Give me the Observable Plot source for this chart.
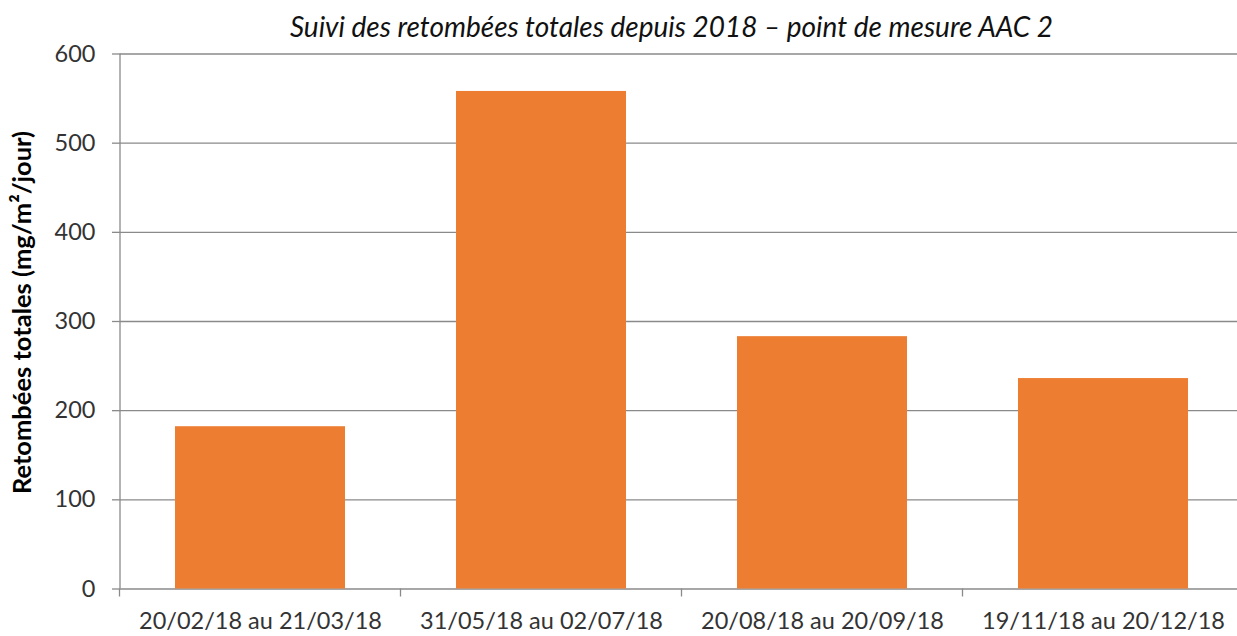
<!DOCTYPE html>
<html>
<head>
<meta charset="utf-8">
<script src="https://cdn.jsdelivr.net/npm/d3@7"></script>
<script src="https://cdn.jsdelivr.net/npm/@observablehq/plot@0.6"></script>
<style>
  html, body { margin: 0; padding: 0; background: #fff; overflow: hidden; }
  svg { display: block; }
</style>
</head>
<body>
<div id="chart"></div>
<script>
const categories = ["20/02/18 au 21/03/18", "31/05/18 au 02/07/18", "20/08/18 au 20/09/18", "19/11/18 au 20/12/18"];
const values = [182, 558, 283, 236];
const yTicks = [0, 100, 200, 300, 400, 500, 600];
const title = "Suivi des retombées totales depuis 2018 – point de mesure AAC 2";
const yLabel = "Retombées totales (mg/m²/jour)";

const data = categories.map((c, i) => ({category: c, value: values[i]}));
const FONT = "Lato, 'Open Sans', sans-serif";
const GRID = "#8a8a8a";
const PAD = 0.395;

// Ticks at band boundaries, drawn from the x scale
function boundaryTicks(index, scales, values, dims) {
  const x = scales.x;
  const step = x.step ? x.step() : x.bandwidth() / (1 - PAD);
  const g = d3.create("svg:g");
  const y0 = dims.height - dims.marginBottom;
  const positions = categories.map(c => x(c) - step * PAD / 2);
  positions.push(x(categories[categories.length - 1]) + x.bandwidth() + step * PAD / 2);
  for (const p of positions) {
    g.append("line").attr("x1", p).attr("x2", p).attr("y1", y0).attr("y2", y0 + 8)
      .attr("stroke", GRID).attr("stroke-width", 1.3);
  }
  return g.node();
}

const plot = Plot.plot({
  width: 1237,
  height: 636,
  marginLeft: 120,
  marginRight: 0,
  marginTop: 53.5,
  marginBottom: 47.5,
  style: {fontFamily: FONT, color: "#1a1a1a", background: "#fff"},
  x: {domain: categories, range: [120, 1244], paddingInner: PAD, paddingOuter: PAD / 2, label: null},
  y: {domain: [0, 600], ticks: yTicks, label: null},
  marks: [
    Plot.ruleY(yTicks, {stroke: GRID, strokeWidth: 1.3, strokeOpacity: 1}),
    Plot.barY(data, {x: "category", y: "value", fill: "#ED7D31"}),
    Plot.axisY({ticks: yTicks, tickSize: 8, tickPadding: 17, stroke: GRID, strokeWidth: 1.3,
      fontSize: 23.5, fill: "#333", label: null, strokeOpacity: 1}),
    Plot.axisX({tickSize: 0, tickPadding: 23, fontSize: 23.5, fill: "#333", label: null}),
    boundaryTicks,
    Plot.text([yLabel], {frameAnchor: "left", textAnchor: "middle", dx: -98, dy: -9, rotate: -90,
      fontSize: 25.5, fontWeight: "bold", fill: "#000"}),
    Plot.text([title], {frameAnchor: "top", dy: -37, dx: -7.5, fontSize: 28, fontStyle: "italic", fill: "#111"})
  ]
});

// Y axis line along the left edge
const svg = d3.select(plot);
svg.append("line").attr("x1", 120).attr("x2", 120).attr("y1", 53.5).attr("y2", 588.5)
  .attr("stroke", GRID).attr("stroke-width", 1.3);
document.getElementById("chart").appendChild(plot);
</script>
</body>
</html>
